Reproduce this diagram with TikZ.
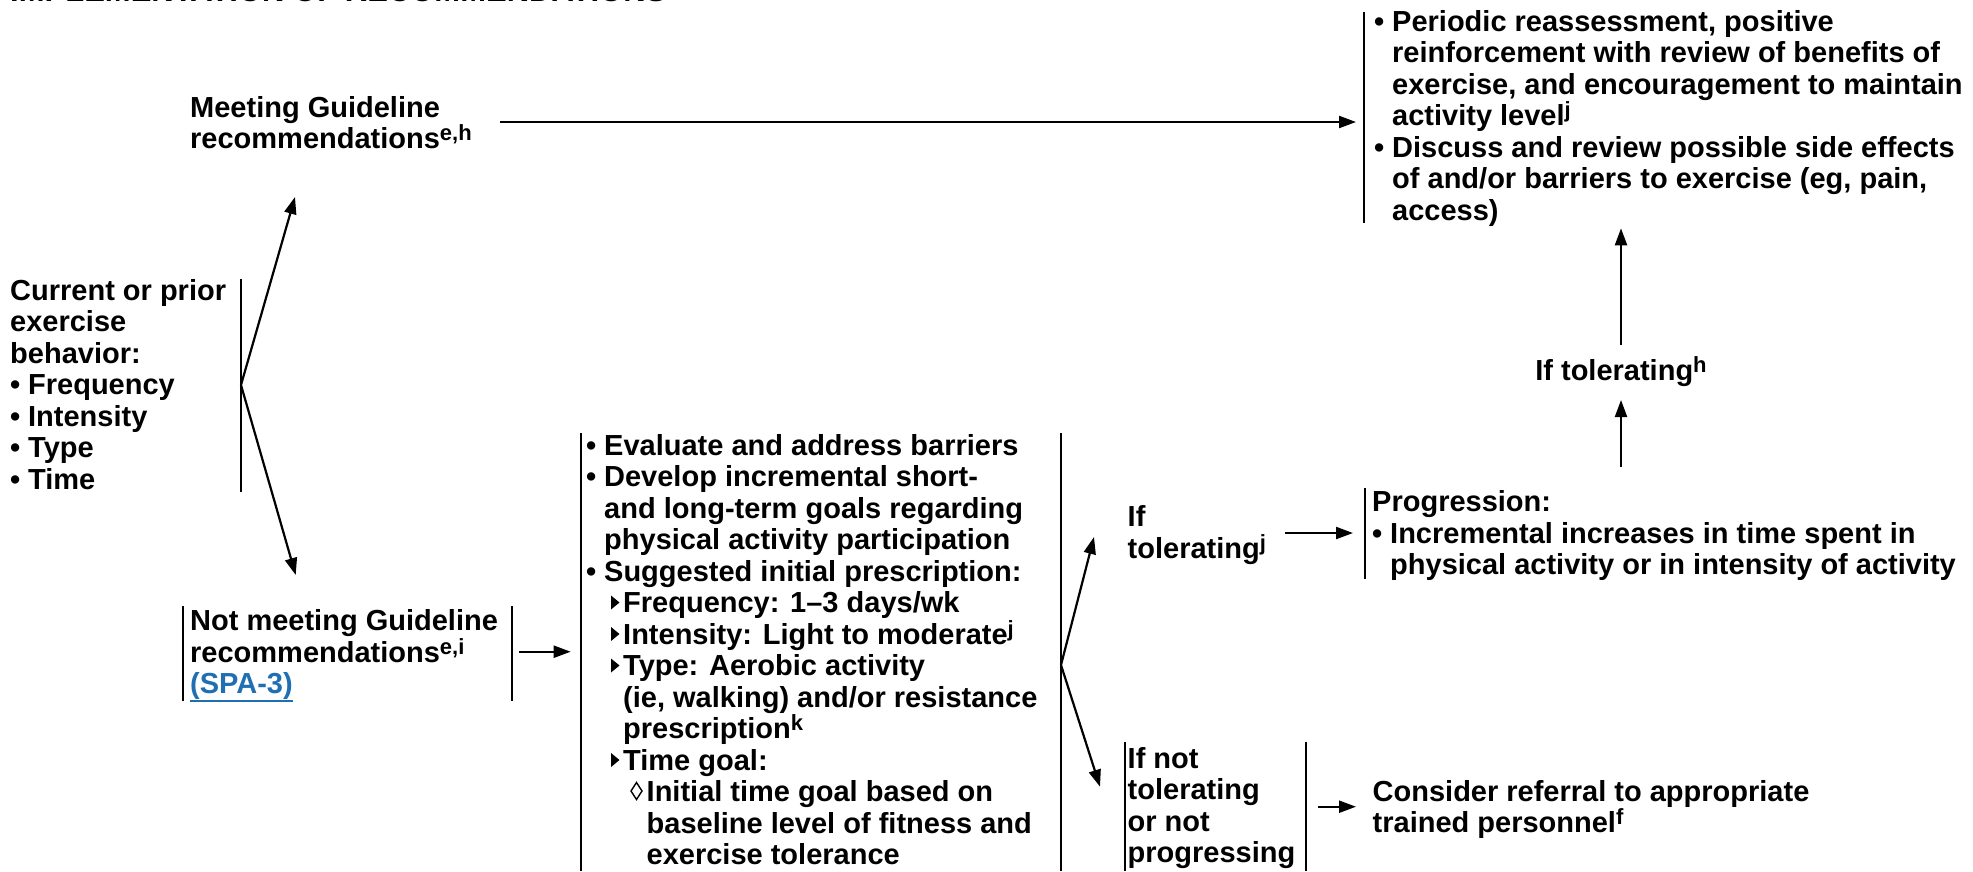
\documentclass[tikz,border=0pt]{standalone}
\usepackage{fontspec}
\setmainfont{Liberation Sans}
\usetikzlibrary{arrows.meta}
\definecolor{linkblue}{HTML}{1F6FB2}

% superscript footnote letters (kept from stretching their line)
\newcommand\supr[1]{\raisebox{8pt}[0pt][0pt]{\fontsize{22}{22}\selectfont #1}}
% list markers and hanging indents (the small triangles and lozenges are drawn in the picture)
\newcommand\bul{\makebox[18pt][l]{•}}
\newcommand\ind{\hspace*{18pt}}
\newcommand\indb{\hspace*{37pt}}
\newcommand\indc{\hspace*{60.5pt}}
\newcommand\lines[1]{\begin{tabular}[t]{@{}l@{}}#1\end{tabular}}
\newcommand\ulink[1]{\textcolor{linkblue}{\setbox0\hbox{#1}\rlap{\rule[-8pt]{\wd0}{2pt}}\box0}}

\begin{document}
\begin{tikzpicture}[x=1pt,y=-1pt,
  txt/.style={inner sep=0pt, anchor=base west, font=\fontsize{29}{31.5}\selectfont\bfseries},
  bar/.style={line width=2pt},
  arr/.style={line width=2.2pt, -{Triangle[length=17pt,width=12pt]}},
  pointer/.style={fill=black},
  lozenge/.style={draw=black, line width=1.4pt, line join=miter}]
\useasboundingbox (0,0) rectangle (1973,871);
\clip (0,0) rectangle (1973,871);

% heading (runs off the top edge)
\node[txt] (title) at (10,1.5) {\fontsize{31}{31}\selectfont IMPLEMENTATION OF RECOMMENDATIONS};

% text blocks
\node[txt] (cur) at (10,300) {\lines{Current or prior\\exercise\\behavior:\\\bul Frequency\\\bul Intensity\\\bul Type\\\bul Time}};
\node[txt] (meet) at (190,117) {\lines{Meeting Guideline\\recommendations\supr{e,h}}};
\node[txt] (notmeet) at (190,630.7) {\lines{Not meeting Guideline\\recommendations\supr{e,i}\\\ulink{(SPA-3)}}};
\node[txt] (plan) at (586,455) {\lines{%
\bul Evaluate and address barriers\\
\bul Develop incremental short-\\
\ind and long-term goals regarding\\
\ind physical activity participation\\
\bul Suggested initial prescription:\\
\indb Frequency: 1–3 days/wk\\
\indb Intensity: Light to moderate\supr{j}\\
\indb Type: Aerobic activity\\
\indb (ie, walking) and/or resistance\\
\indb prescription\supr{k}\\
\indb Time goal:\\
\indc Initial time goal based on\\
\indc baseline level of fitness and\\
\indc exercise tolerance}};
\node[txt] (tol) at (1127.5,526.7) {\lines{If\\tolerating\supr{j}}};
\node[txt] (notol) at (1127.5,768) {\lines{If not\\tolerating\\or not\\progressing}};
\node[txt] (prog) at (1372,511.7) {\lines{Progression:\\\bul Incremental increases in time spent in\\\ind physical activity or in intensity of activity}};
\node[txt] (refer) at (1372.5,801) {\lines{Consider referral to appropriate\\trained personnel\supr{f}}};
\node[txt] (maintain) at (1374,31) {\lines{%
\bul Periodic reassessment, positive\\
\ind reinforcement with review of benefits of\\
\ind exercise, and encouragement to maintain\\
\ind activity level\supr{j}\\
\bul Discuss and review possible side effects\\
\ind of and/or barriers to exercise (eg, pain,\\
\ind access)}};
\node[txt, anchor=base] (tolh) at (1621,380) {If tolerating\supr{h}};

% second-level pointers and third-level lozenge of the prescription list
\foreach \b in {612.5,644,675.5,770}
  \fill[pointer] (611,\b-17) -- (619.5,\b-10) -- (611,\b-3) -- cycle;
\draw[lozenge] (636.5,801.5-19) -- (642,801.5-10.5) -- (636.5,801.5-2) -- (631,801.5-10.5) -- cycle;

% side bars of the blocks
\draw[bar] (241,279) -- (241,492);
\draw[bar] (183,606) -- (183,701);
\draw[bar] (511.7,606) -- (511.7,701);
\draw[bar] (581,433) -- (581,871);
\draw[bar] (1061,433) -- (1061,871);
\draw[bar] (1124.7,741.7) -- (1124.7,871);
\draw[bar] (1306,741.7) -- (1306,871);
\draw[bar] (1365,488) -- (1365,579);
\draw[bar] (1364,11.7) -- (1364,222.7);

% connector end points
\coordinate (curfork) at (241,385);
\coordinate (meetin) at (295,197);
\coordinate (notmeetin) at (295.7,575);
\coordinate (meetout) at (500,122);
\coordinate (maintainin) at (1356,122);
\coordinate (notmeetout) at (519,651.7);
\coordinate (planin) at (570.7,651.7);
\coordinate (planfork) at (1061,665);
\coordinate (tolin) at (1094,537);
\coordinate (notolin) at (1100,786.7);
\coordinate (tolout) at (1285,533);
\coordinate (progin) at (1353,533);
\coordinate (notolout) at (1318,806.7);
\coordinate (referin) at (1356,806.7);
\coordinate (progout) at (1621,466.7);
\coordinate (tolhin) at (1621,400);
\coordinate (tolhout) at (1621,345);
\coordinate (maintainbot) at (1621,228.3);

% connectors
\draw[arr] (curfork) -- (meetin);
\draw[arr] (curfork) -- (notmeetin);
\draw[arr] (meetout) -- (maintainin);
\draw[arr] (notmeetout) -- (planin);
\draw[arr] (planfork) -- (tolin);
\draw[arr] (planfork) -- (notolin);
\draw[arr] (tolout) -- (progin);
\draw[arr] (notolout) -- (referin);
\draw[arr] (progout) -- (tolhin);
\draw[arr] (tolhout) -- (maintainbot);
\end{tikzpicture}
\end{document}
